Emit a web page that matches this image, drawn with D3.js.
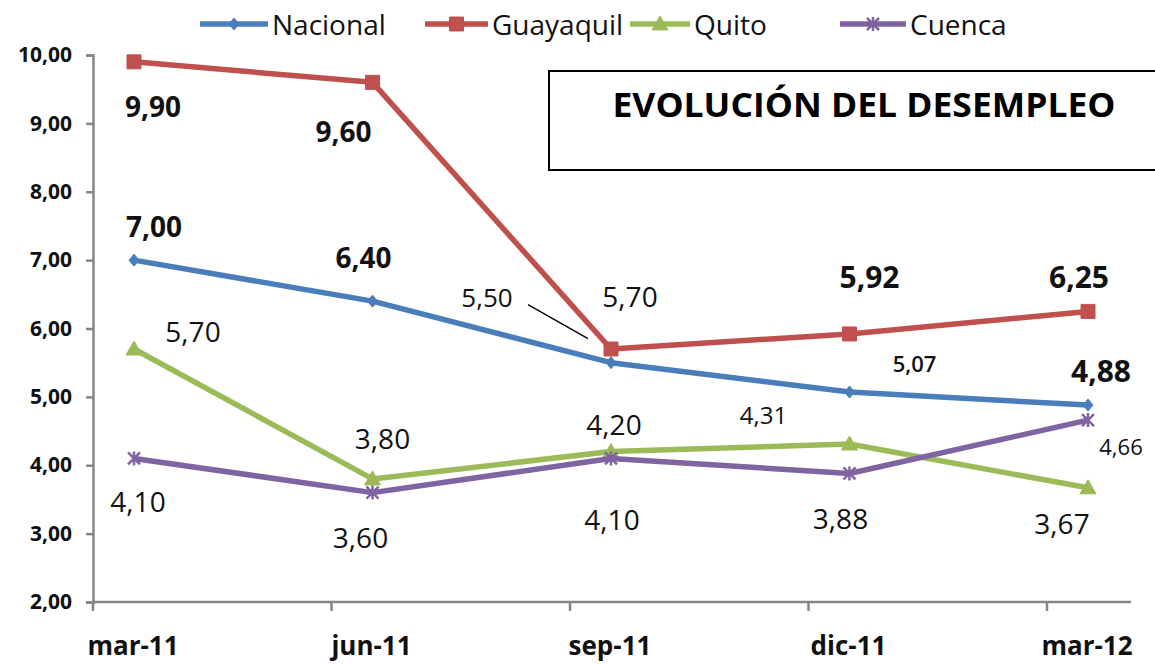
<!DOCTYPE html>
<html><head><meta charset="utf-8">
<script src="https://cdn.jsdelivr.net/npm/d3@7"></script>
<style>body{margin:0;background:#fff}svg{display:block}</style>
</head><body>
<svg id="c" width="1155" height="664"></svg>
<script>
// ---- data ----
const categories = ["mar-11", "jun-11", "sep-11", "dic-11", "mar-12"];
const seriesNames = ["Nacional", "Guayaquil", "Quito", "Cuenca"];
const nacional  = [7.00, 6.40, 5.50, 5.07, 4.88];
const guayaquil = [9.90, 9.60, 5.70, 5.92, 6.25];
const quito     = [5.70, 3.80, 4.20, 4.31, 3.67];
const cuenca    = [4.10, 3.60, 4.10, 3.88, 4.66];
const yTicks = [2, 3, 4, 5, 6, 7, 8, 9, 10];
const titleText = "EVOLUCIÓN DEL DESEMPLEO";

// ---- styles / label placement (not data) ----
const colors = ["#4A7EBB", "#C0504D", "#9BBB59", "#8064A2"];
const markers = ["diamond", "square", "triangle", "cross"];
// [dx, dy, fontSize, weight] per point
const labelStyle = [
  [[20,-23,28,700],[-9,-33,28,700],[-124,-56,26,400],[65,-20,22,600],[13,-23,30,700]],
  [[19,55,28,700],[-29,60,28,700],[19,-42,28,400],[20,-46,30,700],[-9,-23,30,700]],
  [[59,-7,28,400],[10,-30,28,400],[3,-17,28,400],[-86,-20,24,400],[-26,46,28,400]],
  [[4,54,28,400],[-12,55,28,400],[1,72,28,400],[-9,56,28,400],[33,35,22,400]]
];
const legendPos = [[200, 268], [425, 488], [630, 690], [840, 906]];

const svg = d3.select("#c");
const font = "'Open Sans', sans-serif";

const x = d3.scaleBand().domain(categories).range([93, 93 + 5 * 238.5]).paddingInner(0).paddingOuter(0);
const pointOffset = 41;
const px = c => x(c) + pointOffset;
const y = d3.scaleLinear().domain([2, 10]).range([602, 55]);

const axisColor = "#868686";

// y axis
const yAxis = svg.append("g").attr("transform", "translate(93,0)")
  .call(d3.axisLeft(y).tickValues(yTicks).tickSize(7).tickPadding(14)
    .tickFormat(d => d3.format(".2f")(d).replace(".", ",")));
yAxis.select(".domain").attr("stroke", axisColor).attr("stroke-width", 2.5);
yAxis.selectAll(".tick line").attr("stroke", axisColor).attr("stroke-width", 2.5);
yAxis.selectAll(".tick text").attr("font-family", font).attr("font-weight", 700)
  .attr("font-size", 21).attr("fill", "#111");

// x axis
svg.append("line").attr("x1", 93).attr("x2", 1131).attr("y1", y(2)).attr("y2", y(2))
  .attr("stroke", axisColor).attr("stroke-width", 2.5);
svg.selectAll(".xt").data(categories.slice(1)).enter().append("line")
  .attr("x1", d => x(d)).attr("x2", d => x(d)).attr("y1", y(2)).attr("y2", y(2) + 9)
  .attr("stroke", axisColor).attr("stroke-width", 2.5);
svg.append("line").attr("x1", 93).attr("x2", 93).attr("y1", y(2)).attr("y2", y(2) + 9)
  .attr("stroke", axisColor).attr("stroke-width", 2.5);
svg.selectAll(".xl").data(categories).enter().append("text")
  .attr("x", d => px(d) - 1).attr("y", 655).attr("text-anchor", "middle")
  .attr("font-family", font).attr("font-weight", 700).attr("font-size", 26).attr("fill", "#111")
  .text(d => d);

// title box
svg.append("rect").attr("x", 549).attr("y", 71).attr("width", 700).attr("height", 99)
  .attr("fill", "#fff").attr("stroke", "#000").attr("stroke-width", 2);
svg.append("text").attr("x", 864).attr("y", 117).attr("text-anchor", "middle")
  .attr("font-family", font).attr("font-weight", 700).attr("font-size", 34).attr("fill", "#000")
  .attr("textLength", 503).attr("lengthAdjust", "spacingAndGlyphs")
  .text(titleText);

function markerPath(type) {
  if (type === "diamond") return "M0,-6L5,0L0,6L-5,0Z";
  if (type === "square") return "M-7,-7H7V7H-7Z";
  if (type === "triangle") return "M0,-8L8,6H-8Z";
  return "M-6,-6L6,6M6,-6L-6,6M0,-7V7";
}
function drawMarker(g, type, color, cx, cy) {
  const p = g.append("path").attr("d", markerPath(type)).attr("transform", `translate(${cx},${cy})`);
  if (type === "cross") p.attr("fill", "none").attr("stroke", color).attr("stroke-width", 2.5);
  else p.attr("fill", color).attr("stroke", color).attr("stroke-width", 1);
}

const allSeries = [nacional, guayaquil, quito, cuenca];
const line = d3.line().x((d, i) => px(categories[i])).y(d => y(d));

// leader line for Nacional sep-11
svg.append("line")
  .attr("x1", px(categories[2]) - 83).attr("y1", y(nacional[2]) - 58)
  .attr("x2", px(categories[2]) - 23).attr("y2", y(nacional[2]) - 24)
  .attr("stroke", "#000").attr("stroke-width", 1.3);

allSeries.forEach((vals, s) => {
  const g = svg.append("g");
  g.append("path").datum(vals).attr("d", line).attr("fill", "none")
    .attr("stroke", colors[s]).attr("stroke-width", 5.5).attr("stroke-linejoin", "round");
  vals.forEach((v, i) => drawMarker(g, markers[s], colors[s], px(categories[i]), y(v)));
});

// data labels
allSeries.forEach((vals, s) => {
  vals.forEach((v, i) => {
    const st = labelStyle[s][i];
    svg.append("text").attr("x", px(categories[i]) + st[0]).attr("y", y(v) + st[1])
      .attr("text-anchor", "middle").attr("font-family", font)
      .attr("font-size", st[2]).attr("font-weight", st[3]).attr("fill", "#111")
      .text(d3.format(".2f")(v).replace(".", ","));
  });
});

// legend
seriesNames.forEach((n, s) => {
  const g = svg.append("g");
  const [a, b] = legendPos[s];
  g.append("line").attr("x1", a).attr("x2", b).attr("y1", 24).attr("y2", 24)
    .attr("stroke", colors[s]).attr("stroke-width", 5.5);
  drawMarker(g, markers[s], colors[s], (a + b) / 2, 24);
  g.append("text").attr("x", b + 4).attr("y", 35).attr("font-family", font)
    .attr("font-size", 28).attr("fill", "#111").text(n);
});
</script>
</body></html>
